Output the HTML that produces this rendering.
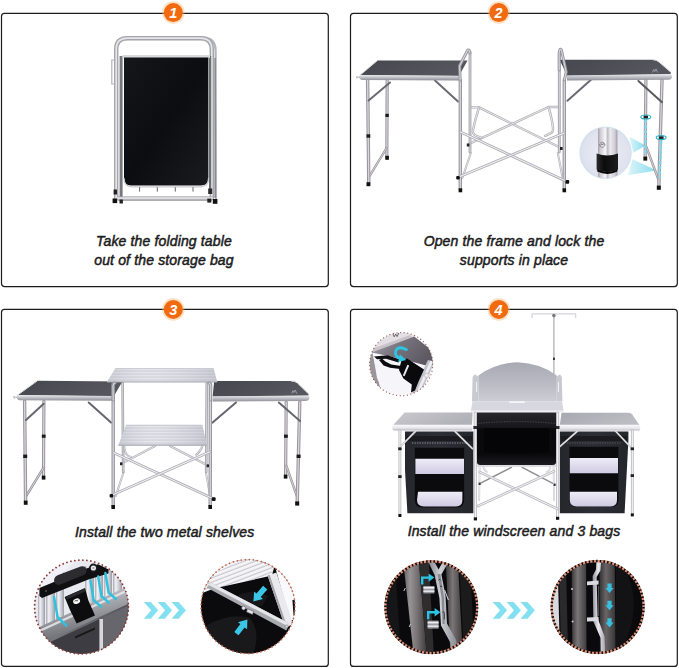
<!DOCTYPE html>
<html><head><meta charset="utf-8">
<style>
html,body{margin:0;padding:0;background:#fff;}
body{width:679px;height:668px;position:relative;overflow:hidden;font-family:"Liberation Sans",sans-serif;}
svg{position:absolute;left:0;top:0;}
.t{position:absolute;font-style:italic;font-size:14px;line-height:19px;color:#1c1c1c;text-align:center;white-space:nowrap;font-weight:400;-webkit-text-stroke:0.5px #1c1c1c;letter-spacing:0.15px;}
</style></head><body>
<svg width="679" height="668" viewBox="0 0 679 668">
<defs>
<linearGradient id="mv" x1="0" x2="1" y1="0" y2="0"><stop offset="0" stop-color="#9a9aa0"/><stop offset="0.45" stop-color="#f1f1f4"/><stop offset="1" stop-color="#a9a9b0"/></linearGradient>
<linearGradient id="chev" x1="0" x2="1"><stop offset="0" stop-color="#86dce8"/><stop offset="1" stop-color="#80e3f8"/></linearGradient>
</defs>
<!-- PANELS -->
<g fill="none" stroke="#1c1c1c" stroke-width="1.2">
<rect x="1.5" y="13.4" width="326.8" height="273.2" rx="3"/>
<rect x="350.5" y="13.4" width="326.8" height="273.2" rx="3"/>
<rect x="1.5" y="309.4" width="326.8" height="357" rx="3"/>
<rect x="350.5" y="309.4" width="326.8" height="357" rx="3"/>
</g>
<g id="img1">
<defs>
<linearGradient id="g1blk" x1="0" x2="1" y1="0" y2="1"><stop offset="0" stop-color="#15161a"/><stop offset="0.5" stop-color="#0c0d10"/><stop offset="1" stop-color="#1a1b1f"/></linearGradient>
<linearGradient id="tubeV" x1="0" x2="1"><stop offset="0" stop-color="#8d8d93"/><stop offset="0.4" stop-color="#ececf0"/><stop offset="1" stop-color="#9b9ba2"/></linearGradient>
<linearGradient id="tubeH" x1="0" x2="0" y1="0" y2="1"><stop offset="0" stop-color="#9a9aa0"/><stop offset="0.45" stop-color="#f2f2f5"/><stop offset="1" stop-color="#a4a4ab"/></linearGradient>
</defs>
<!-- back handle frame (right, thin) -->
<path d="M196,37.6 L204,37.6 Q215.4,38.4 215.6,50 L216,200" fill="none" stroke="#b4b4bc" stroke-width="2.2"/>
<!-- outer frame -->
<path d="M116.2,200 L116.2,49.4 Q116.2,38.2 127.4,38.2 L200.6,38.2 Q211.8,38.2 211.8,49.4 L211.8,200" fill="none" stroke="#a4a4ac" stroke-width="4.4"/>
<path d="M116.2,200 L116.2,49.4 Q116.2,38.2 127.4,38.2 L200.6,38.2 Q211.8,38.2 211.8,49.4 L211.8,200" fill="none" stroke="#e6e6ea" stroke-width="1.7"/>
<!-- inner vertical rails -->
<rect x="119.6" y="56" width="3" height="142" fill="#77777d"/>
<rect x="209" y="56" width="2.2" height="138" fill="#6d6d74"/>
<rect x="214.4" y="58" width="1.6" height="140" fill="#8a8a90"/>
<!-- left small latch -->
<path d="M115.5,60 L111.8,60 L111.8,84 L115.5,84" fill="none" stroke="#b4b4ba" stroke-width="1.2"/>
<!-- top rim of panel -->
<rect x="122.5" y="55" width="87.5" height="3" fill="#d9d9de"/>
<!-- black panel -->
<path d="M124,57.6 L208.4,57.6 L208.4,178 Q208.4,185.4 201,185.4 L131,185.4 Q124,185.4 124,178 Z" fill="url(#g1blk)"/>
<path d="M124,178 Q124,186.8 132,186.8 L200,186.8 Q208.6,186.8 208.6,178" fill="none" stroke="#c9c9cf" stroke-width="1.3"/>
<!-- small ticks -->
<g stroke="#55555b" stroke-width="0.9"><line x1="139.6" y1="187.2" x2="139.6" y2="191.6"/><line x1="157.3" y1="187.2" x2="157.3" y2="191.6"/><line x1="175.3" y1="187.2" x2="175.3" y2="191.6"/><line x1="193" y1="187.2" x2="193" y2="191.6"/></g>
<!-- bottom bar -->
<rect x="117" y="196.4" width="96" height="3.6" fill="url(#tubeH)"/>
<line x1="118" y1="200.4" x2="212" y2="200.4" stroke="#8b8b92" stroke-width="0.8"/>
<!-- feet -->
<rect x="113.6" y="189.5" width="3.4" height="5" fill="#222"/>
<rect x="112.6" y="198.5" width="4.6" height="4.6" fill="#111"/>
<rect x="119.5" y="199.5" width="3.4" height="4" fill="#222"/>
<rect x="208.2" y="188.5" width="4" height="5.5" fill="#2a2a2a"/>
<rect x="207.3" y="198.6" width="4" height="4" fill="#222"/>
<rect x="212.8" y="199" width="4.6" height="4.8" fill="#111"/>
</g>
<g id="img2"><defs>
<linearGradient id="top2" x1="0" x2="1" y1="0" y2="0.3"><stop offset="0" stop-color="#46464e"/><stop offset="1" stop-color="#56565e"/></linearGradient>
<linearGradient id="rim" x1="0" x2="0" y1="0" y2="1"><stop offset="0" stop-color="#ededf0"/><stop offset="0.5" stop-color="#bcbcc4"/><stop offset="1" stop-color="#8e8e96"/></linearGradient>
<linearGradient id="beam" x1="0" x2="1"><stop offset="0" stop-color="#d8f3f9" stop-opacity="0.9"/><stop offset="1" stop-color="#7ad9ee" stop-opacity="0.9"/></linearGradient>
<radialGradient id="ins2" cx="0.5" cy="0.5" r="0.5"><stop offset="0" stop-color="#eceef7"/><stop offset="0.85" stop-color="#dfe2ee"/><stop offset="1" stop-color="#cfd6e4"/></radialGradient>
<linearGradient id="pole2" x1="0" x2="1"><stop offset="0" stop-color="#a5a0a8"/><stop offset="0.12" stop-color="#cfcad2"/><stop offset="0.38" stop-color="#f7f7f9"/><stop offset="0.5" stop-color="#bdbdc4"/><stop offset="0.62" stop-color="#ecebf0"/><stop offset="0.88" stop-color="#cfcbd3"/><stop offset="1" stop-color="#9c98a1"/></linearGradient>
<linearGradient id="cap2" x1="0" x2="1"><stop offset="0" stop-color="#2a2a2c"/><stop offset="0.35" stop-color="#0c0c0d"/><stop offset="1" stop-color="#1d1d1f"/></linearGradient>
</defs><path d="M470,107.4 L479,107.4 L561,148" fill="none" stroke="#aeaeb6" stroke-width="2.4" stroke-linecap="round" stroke-linejoin="round" /><path d="M470,107.4 L479,107.4 L561,148" fill="none" stroke="#f1f1f5" stroke-width="0.864" stroke-linecap="round" stroke-linejoin="round" /><path d="M559.5,107 L548.6,107 L469,144" fill="none" stroke="#aeaeb6" stroke-width="2.4" stroke-linecap="round" stroke-linejoin="round" /><path d="M559.5,107 L548.6,107 L469,144" fill="none" stroke="#f1f1f5" stroke-width="0.864" stroke-linecap="round" stroke-linejoin="round" /><path d="M479,107.6 Q475,120 473,130 Q472.3,134.6 476.2,135.8 L481.5,137.8" fill="none" stroke="#aeaeb6" stroke-width="2.4" stroke-linecap="round" stroke-linejoin="round" /><path d="M479,107.6 Q475,120 473,130 Q472.3,134.6 476.2,135.8 L481.5,137.8" fill="none" stroke="#f1f1f5" stroke-width="0.864" stroke-linecap="round" stroke-linejoin="round" /><path d="M548.6,107.2 Q552,119 553,128 Q553.6,132.6 550,133.6 L545,135.8" fill="none" stroke="#aeaeb6" stroke-width="2.4" stroke-linecap="round" stroke-linejoin="round" /><path d="M548.6,107.2 Q552,119 553,128 Q553.6,132.6 550,133.6 L545,135.8" fill="none" stroke="#f1f1f5" stroke-width="0.864" stroke-linecap="round" stroke-linejoin="round" /><path d="M470.8,153 L462.4,178" fill="none" stroke="#aeaeb6" stroke-width="2.0" stroke-linecap="round" stroke-linejoin="round" /><path d="M470.8,153 L462.4,178" fill="none" stroke="#f1f1f5" stroke-width="0.72" stroke-linecap="round" stroke-linejoin="round" /><path d="M557.8,153 L563,180" fill="none" stroke="#aeaeb6" stroke-width="2.0" stroke-linecap="round" stroke-linejoin="round" /><path d="M557.8,153 L563,180" fill="none" stroke="#f1f1f5" stroke-width="0.72" stroke-linecap="round" stroke-linejoin="round" /><path d="M470,52 L470,152" fill="none" stroke="#a0a0a8" stroke-width="2.8" stroke-linecap="round" stroke-linejoin="round" /><path d="M470,52 L470,152" fill="none" stroke="#dad8de" stroke-width="1.008" stroke-linecap="round" stroke-linejoin="round" /><path d="M559.3,54 L559.3,152" fill="none" stroke="#a0a0a8" stroke-width="2.8" stroke-linecap="round" stroke-linejoin="round" /><path d="M559.3,54 L559.3,152" fill="none" stroke="#dad8de" stroke-width="1.008" stroke-linecap="round" stroke-linejoin="round" /><line x1="435" y1="80.5" x2="458" y2="101.5" stroke="#6a6a72" stroke-width="2.0" stroke-linecap="round"/><path d="M387.2,80 L386.8,157" fill="none" stroke="#9b969e" stroke-width="3.2" stroke-linecap="round" stroke-linejoin="round" /><path d="M387.2,80 L386.8,157" fill="none" stroke="#dad8de" stroke-width="1.152" stroke-linecap="round" stroke-linejoin="round" /><path d="M386.6,148 L369.6,176" fill="none" stroke="#9b969e" stroke-width="2.4" stroke-linecap="round" stroke-linejoin="round" /><path d="M386.6,148 L369.6,176" fill="none" stroke="#dad8de" stroke-width="0.864" stroke-linecap="round" stroke-linejoin="round" /><path d="M367.6,80 L368.8,184" fill="none" stroke="#9b969e" stroke-width="3.4" stroke-linecap="round" stroke-linejoin="round" /><path d="M367.6,80 L368.8,184" fill="none" stroke="#dad8de" stroke-width="1.224" stroke-linecap="round" stroke-linejoin="round" /><line x1="390" y1="82.5" x2="368.6" y2="100.5" stroke="#6a6a72" stroke-width="2.0" stroke-linecap="round"/><rect x="385.4" y="113.8" width="3.4" height="3.2" fill="#1a1a1a" rx="0"/><rect x="366.5" y="134.3" width="3.8" height="3.4" fill="#1a1a1a" rx="0"/><rect x="385.3" y="155.8" width="3.6" height="4" fill="#111" rx="0"/><rect x="366.5" y="182.2" width="3.8" height="4" fill="#111" rx="0"/><path d="M377.5,60.4 L467.5,60.4 L459,76 L360,75.2 Z" fill="url(#top2)"/><path d="M359.6,75 L459,75.8 L459.3,80.4 L362,80 Q358.6,79.6 359.6,75 Z" fill="url(#rim)"/><path d="M360,77.4 L356.4,76.6 L357.2,78.6" fill="none" stroke="#aaaab0" stroke-width="0.9"/><path d="M377.5,60.4 L360,75.2" stroke="#d6d6db" stroke-width="1" fill="none"/><path d="M460.3,80 L460.3,189.5" fill="none" stroke="#97979f" stroke-width="3.4" stroke-linecap="round" stroke-linejoin="round" /><path d="M460.3,80 L460.3,189.5" fill="none" stroke="#dad8de" stroke-width="1.224" stroke-linecap="round" stroke-linejoin="round" /><path d="M460.2,80 L459.6,66 L467.4,50.6 Q469.4,48.4 470,53" fill="none" stroke="#97979f" stroke-width="3.0" stroke-linecap="round" stroke-linejoin="round" /><path d="M460.2,80 L459.6,66 L467.4,50.6 Q469.4,48.4 470,53" fill="none" stroke="#dad8de" stroke-width="1.08" stroke-linecap="round" stroke-linejoin="round" /><rect x="458.6" y="188.3" width="3.6" height="4" fill="#111" rx="0"/><line x1="591" y1="79.8" x2="567.4" y2="100.8" stroke="#6a6a72" stroke-width="2.0" stroke-linecap="round"/><path d="M629.4,136.7 L645.4,145.6 L633.4,152.8 Z" fill="url(#beam)"/><path d="M632.6,159.2 L656.7,170.4 L627.8,175.3 Z" fill="url(#beam)"/><path d="M645.9,80 L645.2,157.5" fill="none" stroke="#9b969e" stroke-width="3.2" stroke-linecap="round" stroke-linejoin="round" /><path d="M645.9,80 L645.2,157.5" fill="none" stroke="#dad8de" stroke-width="1.152" stroke-linecap="round" stroke-linejoin="round" /><path d="M646.4,147 L658.6,180" fill="none" stroke="#9b969e" stroke-width="2.4" stroke-linecap="round" stroke-linejoin="round" /><path d="M646.4,147 L658.6,180" fill="none" stroke="#dad8de" stroke-width="0.864" stroke-linecap="round" stroke-linejoin="round" /><path d="M662,80 L658.8,187" fill="none" stroke="#9b969e" stroke-width="3.4" stroke-linecap="round" stroke-linejoin="round" /><path d="M662,80 L658.8,187" fill="none" stroke="#dad8de" stroke-width="1.224" stroke-linecap="round" stroke-linejoin="round" /><line x1="638.4" y1="81" x2="662" y2="102.2" stroke="#5a5a62" stroke-width="2.0" stroke-linecap="round"/><rect x="643.4" y="156.6" width="3.8" height="4" fill="#111" rx="0"/><rect x="656.8" y="185.6" width="4" height="4.2" fill="#111" rx="0"/><path d="M559.6,59.8 L653,59.8 Q656.5,59.8 659,62 L670.6,72 Q672,74 669,74.4 L567.2,75.8 Z" fill="url(#top2)"/><path d="M566.8,75.6 L669.5,74 Q672.6,74 672,77 Q671.6,79.6 668.6,79.7 L567,80.6 Z" fill="url(#rim)"/><path d="M653,59.8 Q656.5,59.8 659,62 L670.6,72" stroke="#d9d9de" stroke-width="1" fill="none"/><path d="M652.4,72.5 l1.3,-3 l1.1,2 l1.2,-2.6 l1.6,3.6" stroke="#b5b5bb" stroke-width="0.7" fill="none"/><path d="M564.3,80 L564.3,189.5" fill="none" stroke="#97979f" stroke-width="3.4" stroke-linecap="round" stroke-linejoin="round" /><path d="M564.3,80 L564.3,189.5" fill="none" stroke="#dad8de" stroke-width="1.224" stroke-linecap="round" stroke-linejoin="round" /><path d="M564.4,80 L566.2,72 L561.4,50 Q559.6,47.6 559.2,53 L559.2,70" fill="none" stroke="#97979f" stroke-width="3.0" stroke-linecap="round" stroke-linejoin="round" /><path d="M564.4,80 L566.2,72 L561.4,50 Q559.6,47.6 559.2,53 L559.2,70" fill="none" stroke="#dad8de" stroke-width="1.08" stroke-linecap="round" stroke-linejoin="round" /><rect x="562.5" y="188.3" width="3.6" height="4" fill="#111" rx="0"/><path d="M460.6,132 L566.6,181.4" fill="none" stroke="#aeaeb6" stroke-width="2.8" stroke-linecap="round" stroke-linejoin="round" /><path d="M460.6,132 L566.6,181.4" fill="none" stroke="#f1f1f5" stroke-width="1.008" stroke-linecap="round" stroke-linejoin="round" /><path d="M564.2,133 L458.8,177" fill="none" stroke="#aeaeb6" stroke-width="2.8" stroke-linecap="round" stroke-linejoin="round" /><path d="M564.2,133 L458.8,177" fill="none" stroke="#f1f1f5" stroke-width="1.008" stroke-linecap="round" stroke-linejoin="round" /><rect x="456.2" y="176" width="3.6" height="3.6" fill="#111" rx="1"/><rect x="565.4" y="180" width="3.8" height="3.8" fill="#111" rx="1"/><rect x="466.8" y="143.5" width="2.6" height="3" fill="#222" rx="0"/><rect x="560" y="147" width="2.6" height="3" fill="#222" rx="0"/><g stroke="#7adcef" stroke-width="2.6" stroke-dasharray="3.4 1.6" opacity="0.85"><line x1="645.7" y1="120" x2="645.3" y2="154"/><line x1="661.2" y1="141" x2="659.4" y2="178"/></g><rect x="643.6" y="115.6" width="4.4" height="3" fill="#222" rx="0"/><rect x="659" y="136.2" width="4.6" height="3" fill="#222" rx="0"/><g stroke="#2ab0c6" stroke-width="1.1" fill="none"><ellipse cx="645.8" cy="117" rx="5" ry="2"/><ellipse cx="661.2" cy="137.6" rx="5" ry="2"/></g><clipPath id="c2"><circle cx="605.6" cy="152.8" r="25.4"/></clipPath><circle cx="605.6" cy="152.8" r="26.2" fill="#cfe6ee"/><g clip-path="url(#c2)"><rect x="578" y="125" width="56" height="56" fill="url(#ins2)"/><rect x="598" y="125" width="19.4" height="56" fill="url(#pole2)"/><path d="M596.6,153.6 Q607.4,157.6 618,153.6 L618,169.4 Q607.4,174.4 596.6,169.4 Z" fill="url(#cap2)"/><path d="M597.2,169.4 Q607.4,174.2 617.4,169.4 L617.4,171.6 Q607.4,176.4 597.2,171.6 Z" fill="#050505"/><circle cx="602.2" cy="144.8" r="2.6" fill="none" stroke="#6d6d75" stroke-width="0.9" stroke-dasharray="1.6 0.8"/><path d="M600.6,145.6 l1.2,-2 l1,1.4 l1,-1.8" stroke="#55555c" stroke-width="0.6" fill="none"/></g></g>
<g id="img3"><defs>
<pattern id="stripes" width="3" height="3" patternUnits="userSpaceOnUse"><rect width="3" height="3" fill="#cacad5"/><rect y="0" width="3" height="1.2" fill="#dedee7"/></pattern>
<linearGradient id="shelfG" x1="0" x2="1" y1="0" y2="0"><stop offset="0" stop-color="#c2c2cc" stop-opacity="0.55"/><stop offset="0.4" stop-color="#ffffff" stop-opacity="0.25"/><stop offset="1" stop-color="#b9b9c4" stop-opacity="0.5"/></linearGradient>
</defs><path d="M124,446 Q124.6,451.6 126.4,454 Q128,456.4 131,457" fill="none" stroke="#aeaeb6" stroke-width="2.2" stroke-linecap="round" stroke-linejoin="round" /><path d="M124,446 Q124.6,451.6 126.4,454 Q128,456.4 131,457" fill="none" stroke="#f1f1f5" stroke-width="0.792" stroke-linecap="round" stroke-linejoin="round" /><path d="M202.4,446 Q200,452 196.2,454.6" fill="none" stroke="#aeaeb6" stroke-width="2.2" stroke-linecap="round" stroke-linejoin="round" /><path d="M202.4,446 Q200,452 196.2,454.6" fill="none" stroke="#f1f1f5" stroke-width="0.792" stroke-linecap="round" stroke-linejoin="round" /><path d="M155,446 L121.6,463.6" fill="none" stroke="#aeaeb6" stroke-width="2.2" stroke-linecap="round" stroke-linejoin="round" /><path d="M155,446 L121.6,463.6" fill="none" stroke="#f1f1f5" stroke-width="0.792" stroke-linecap="round" stroke-linejoin="round" /><path d="M170,446 L207.8,465.6" fill="none" stroke="#aeaeb6" stroke-width="2.2" stroke-linecap="round" stroke-linejoin="round" /><path d="M170,446 L207.8,465.6" fill="none" stroke="#f1f1f5" stroke-width="0.792" stroke-linecap="round" stroke-linejoin="round" /><path d="M123.6,472 L115.8,496" fill="none" stroke="#aeaeb6" stroke-width="2.0" stroke-linecap="round" stroke-linejoin="round" /><path d="M123.6,472 L115.8,496" fill="none" stroke="#f1f1f5" stroke-width="0.72" stroke-linecap="round" stroke-linejoin="round" /><path d="M205.9,472 L210.4,497.6" fill="none" stroke="#aeaeb6" stroke-width="2.0" stroke-linecap="round" stroke-linejoin="round" /><path d="M205.9,472 L210.4,497.6" fill="none" stroke="#f1f1f5" stroke-width="0.72" stroke-linecap="round" stroke-linejoin="round" /><path d="M122.6,383 L123.2,472" fill="none" stroke="#a0a0a8" stroke-width="2.6" stroke-linecap="round" stroke-linejoin="round" /><path d="M122.6,383 L123.2,472" fill="none" stroke="#dad8de" stroke-width="0.9359999999999999" stroke-linecap="round" stroke-linejoin="round" /><path d="M206.8,383 L206.2,472" fill="none" stroke="#a0a0a8" stroke-width="2.6" stroke-linecap="round" stroke-linejoin="round" /><path d="M206.8,383 L206.2,472" fill="none" stroke="#dad8de" stroke-width="0.9359999999999999" stroke-linecap="round" stroke-linejoin="round" /><line x1="88.7" y1="402.5" x2="111" y2="422.6" stroke="#66666e" stroke-width="2.0" stroke-linecap="round"/><path d="M43.9,401 L43.5,477" fill="none" stroke="#9b969e" stroke-width="3.2" stroke-linecap="round" stroke-linejoin="round" /><path d="M43.9,401 L43.5,477" fill="none" stroke="#dad8de" stroke-width="1.152" stroke-linecap="round" stroke-linejoin="round" /><path d="M43.4,468 L26.2,496" fill="none" stroke="#9b969e" stroke-width="2.4" stroke-linecap="round" stroke-linejoin="round" /><path d="M43.4,468 L26.2,496" fill="none" stroke="#dad8de" stroke-width="0.864" stroke-linecap="round" stroke-linejoin="round" /><path d="M24.6,401 L25.6,502" fill="none" stroke="#9b969e" stroke-width="3.4" stroke-linecap="round" stroke-linejoin="round" /><path d="M24.6,401 L25.6,502" fill="none" stroke="#dad8de" stroke-width="1.224" stroke-linecap="round" stroke-linejoin="round" /><line x1="43.7" y1="403.7" x2="26" y2="420" stroke="#66666e" stroke-width="2.0" stroke-linecap="round"/><rect x="41.8" y="434.6" width="3.8" height="3.2" fill="#1a1a1a" rx="0"/><rect x="23.2" y="454.6" width="4" height="3.4" fill="#1a1a1a" rx="0"/><rect x="41.8" y="475.6" width="3.6" height="4" fill="#111" rx="0"/><rect x="23.8" y="500.6" width="3.8" height="4.2" fill="#111" rx="0"/><path d="M37.4,380.8 L122.4,381.6 L113.8,396.2 L17.4,395.2 Z" fill="url(#top2)"/><path d="M17,395 L113.8,396 L114,400.8 L19.4,400.2 Q16,399.8 17,395 Z" fill="url(#rim)"/><path d="M17.4,397.6 L13.6,396.6 L14.6,398.8" fill="none" stroke="#aaaab0" stroke-width="0.9"/><path d="M37.4,380.8 L17.4,395.2" stroke="#d6d6db" stroke-width="1" fill="none"/><line x1="236" y1="402.4" x2="212.6" y2="422.6" stroke="#66666e" stroke-width="2.0" stroke-linecap="round"/><path d="M286.2,402 L285.6,476" fill="none" stroke="#9b969e" stroke-width="3.2" stroke-linecap="round" stroke-linejoin="round" /><path d="M286.2,402 L285.6,476" fill="none" stroke="#dad8de" stroke-width="1.152" stroke-linecap="round" stroke-linejoin="round" /><path d="M286.4,466 L297.2,497" fill="none" stroke="#9b969e" stroke-width="2.4" stroke-linecap="round" stroke-linejoin="round" /><path d="M286.4,466 L297.2,497" fill="none" stroke="#dad8de" stroke-width="0.864" stroke-linecap="round" stroke-linejoin="round" /><path d="M299.8,402 L297.2,503" fill="none" stroke="#9b969e" stroke-width="3.4" stroke-linecap="round" stroke-linejoin="round" /><path d="M299.8,402 L297.2,503" fill="none" stroke="#dad8de" stroke-width="1.224" stroke-linecap="round" stroke-linejoin="round" /><line x1="278.8" y1="402.6" x2="300" y2="421" stroke="#66666e" stroke-width="2.0" stroke-linecap="round"/><rect x="284" y="434.6" width="3.8" height="3.2" fill="#1a1a1a" rx="0"/><rect x="296.6" y="454.6" width="4" height="3.4" fill="#1a1a1a" rx="0"/><rect x="283.8" y="474.6" width="3.6" height="4" fill="#111" rx="0"/><rect x="295.2" y="501.4" width="4" height="4.2" fill="#111" rx="0"/><path d="M214.2,381 L291,381 Q295,381 297.4,383 L308.2,393.6 Q309.6,395.6 306.6,395.8 L212.6,396.6 Z" fill="url(#top2)"/><path d="M212.4,396.4 L307,395.4 Q310,395.4 309.4,398.4 Q309,400.8 306,400.9 L212.6,401.6 Z" fill="url(#rim)"/><path d="M291,381 Q295,381 297.4,383 L308.2,393.6" stroke="#d9d9de" stroke-width="1" fill="none"/><path d="M291.6,393.6 l1.3,-3 l1.1,2 l1.2,-2.6 l1.6,3.6" stroke="#b5b5bb" stroke-width="0.7" fill="none"/><path d="M126,425.2 L202.4,425.2 L206.8,445.2 L118.4,445.2 Z" fill="url(#stripes)"/><path d="M126,425.2 L202.4,425.2 L206.8,445.2 L118.4,445.2 Z" fill="url(#shelfG)"/><path d="M118.4,445.2 L206.8,445.2" stroke="#a9a9b2" stroke-width="1.2"/><path d="M126,425.2 L202.4,425.2" stroke="#bfbfc8" stroke-width="0.8"/><path d="M113.2,384 L113.2,506" fill="none" stroke="#97979f" stroke-width="3.4" stroke-linecap="round" stroke-linejoin="round" /><path d="M113.2,384 L113.2,506" fill="none" stroke="#dad8de" stroke-width="1.224" stroke-linecap="round" stroke-linejoin="round" /><path d="M210.4,384 L210.2,506" fill="none" stroke="#97979f" stroke-width="3.4" stroke-linecap="round" stroke-linejoin="round" /><path d="M210.4,384 L210.2,506" fill="none" stroke="#dad8de" stroke-width="1.224" stroke-linecap="round" stroke-linejoin="round" /><rect x="111.4" y="505" width="3.6" height="4" fill="#111" rx="0"/><rect x="208.4" y="505" width="3.6" height="4" fill="#111" rx="0"/><path d="M115.2,368.6 L213.6,368.6 L217.2,382 L107,382 Z" fill="url(#stripes)"/><path d="M115.2,368.6 L213.6,368.6 L217.2,382 L107,382 Z" fill="url(#shelfG)"/><path d="M107,382 L217.2,382" stroke="#a5a5ae" stroke-width="1.2"/><path d="M115.2,368.6 L213.6,368.6" stroke="#c3c3cc" stroke-width="0.8"/><path d="M113.2,400 L113,386 Q113.4,383.4 115,383" fill="none" stroke="#97979f" stroke-width="3.0" stroke-linecap="round" stroke-linejoin="round" /><path d="M113.2,400 L113,386 Q113.4,383.4 115,383" fill="none" stroke="#dad8de" stroke-width="1.08" stroke-linecap="round" stroke-linejoin="round" /><path d="M210.4,400 L210.8,386 Q210.4,383.4 209,383" fill="none" stroke="#97979f" stroke-width="3.0" stroke-linecap="round" stroke-linejoin="round" /><path d="M210.4,400 L210.8,386 Q210.4,383.4 209,383" fill="none" stroke="#dad8de" stroke-width="1.08" stroke-linecap="round" stroke-linejoin="round" /><path d="M113.6,452.7 L213,498.6" fill="none" stroke="#aeaeb6" stroke-width="2.8" stroke-linecap="round" stroke-linejoin="round" /><path d="M113.6,452.7 L213,498.6" fill="none" stroke="#f1f1f5" stroke-width="1.008" stroke-linecap="round" stroke-linejoin="round" /><path d="M210,451.8 L112.2,495" fill="none" stroke="#aeaeb6" stroke-width="2.8" stroke-linecap="round" stroke-linejoin="round" /><path d="M210,451.8 L112.2,495" fill="none" stroke="#f1f1f5" stroke-width="1.008" stroke-linecap="round" stroke-linejoin="round" /><rect x="109.6" y="494" width="3.6" height="3.6" fill="#111" rx="1"/><rect x="211.8" y="497.2" width="3.8" height="3.8" fill="#111" rx="1"/><rect x="120" y="462.4" width="2.4" height="2.8" fill="#222" rx="0"/><rect x="206.6" y="464.4" width="2.4" height="2.8" fill="#222" rx="0"/></g>
<g id="img4"><defs>
<linearGradient id="ws" x1="0" x2="0" y1="0" y2="1"><stop offset="0" stop-color="#a9a9b3"/><stop offset="0.6" stop-color="#bdbdc6"/><stop offset="1" stop-color="#cdcdd5"/></linearGradient>
<linearGradient id="top4" x1="0" x2="1" y1="0" y2="0.4"><stop offset="0" stop-color="#c9c9ce"/><stop offset="1" stop-color="#b1b1b8"/></linearGradient>
<linearGradient id="top4r" x1="0" x2="1" y1="0" y2="0.4"><stop offset="0" stop-color="#a8a8b0"/><stop offset="1" stop-color="#bcbcc3"/></linearGradient>
<linearGradient id="rim4" x1="0" x2="0" y1="0" y2="1"><stop offset="0" stop-color="#fbfbfc"/><stop offset="0.6" stop-color="#e6e6ea"/><stop offset="1" stop-color="#b9b9c0"/></linearGradient>
<linearGradient id="bagO" x1="0" x2="1"><stop offset="0" stop-color="#26262d"/><stop offset="0.5" stop-color="#2e2e36"/><stop offset="1" stop-color="#25252c"/></linearGradient>
<linearGradient id="shelfL" x1="0" x2="0" y1="0" y2="1"><stop offset="0" stop-color="#efecf8"/><stop offset="1" stop-color="#cfcae2"/></linearGradient>
<linearGradient id="midbag" x1="0" x2="0" y1="0" y2="1"><stop offset="0" stop-color="#26262c"/><stop offset="0.28" stop-color="#17171b"/><stop offset="0.32" stop-color="#09090b"/><stop offset="0.8" stop-color="#0a0a0d"/><stop offset="1" stop-color="#1c1c21"/></linearGradient>
</defs><path d="M532.2,318 L532.2,313.8 L575.6,313.8 L575.6,318" fill="none" stroke="#d6d6db" stroke-width="1.3"/><line x1="553.9" y1="316" x2="553.9" y2="374" stroke="#bbbbc2" stroke-width="1.5"/><circle cx="553.9" cy="315.6" r="1.8" fill="#77777d"/><rect x="553" y="357.6" width="1.9" height="2.4" fill="#333" rx="0"/><path d="M472,401.6 L472.6,377 L474.6,374.2 L478.4,376.6 L478.4,401.6 Z" fill="#c9c9d2"/><path d="M562.4,401.6 L561.8,377 L560,374.2 L556.8,376.6 L556.8,401.6 Z" fill="#c9c9d2"/><path d="M478.4,401.6 L478.4,375.4 Q496,363 517.6,362.2 Q540,363 556.8,375.4 L556.8,401.6 Z" fill="url(#ws)"/><g stroke="#f4f4f7" stroke-width="1"><line x1="476.6" y1="382" x2="476.6" y2="392"/><line x1="558.4" y1="382" x2="558.4" y2="392"/></g><path d="M472.6,401.4 L562,401.4 L563.6,411 L470.8,411 Z" fill="#d7d7df"/><path d="M470.8,410.6 L563.6,410.6 L563.6,412.6 L470.8,412.6 Z" fill="#efeff3"/><rect x="509" y="401.2" width="16" height="1.8" rx="0.9" fill="#f6f6f9"/><line x1="511.4" y1="467.4" x2="479.7" y2="483.6" stroke="#8d8d94" stroke-width="1.5" stroke-linecap="round"/><line x1="522.2" y1="467.4" x2="554.7" y2="484.4" stroke="#8d8d94" stroke-width="1.5" stroke-linecap="round"/><path d="M476.8,412.6 L556.4,412.6 L556,463 Q555.6,465 553,465 L480,465 Q477.4,465 477,463 Z" fill="url(#midbag)"/><path d="M478,423.4 Q516,419.6 555,423.4" stroke="#3a3a42" stroke-width="1.2" fill="none" stroke-dasharray="1.6 1"/><path d="M484,428 L549,428 L549,452 Q516,455 484,452 Z" fill="#050507"/><path d="M405,431.6 L473.4,431.6 L473.4,513.2 L407.4,513.2 L405,470 Z" fill="url(#bagO)"/><path d="M406,436 L472,436 L472,441 L406,441 Z" fill="#1a1a1f"/><path d="M412,443 L466,443" stroke="#6b6b75" stroke-width="1.4" stroke-dasharray="1.4 1.1"/><path d="M414.8,447.8 L464.2,447.8 L464.2,500 Q464.2,507.4 457,507.4 L422,507.4 Q414.8,507.4 414.8,500 Z" fill="#0b0b0e"/><path d="M415.4,458.8 L464,458.8 L464,474 L415.4,474 Z" fill="url(#shelfL)"/><path d="M418,491.8 L462.4,491.8 L462.4,500 Q462.4,506.4 456,506.4 L424,506.4 Q417,506.4 417,500 Z" fill="url(#shelfL)"/><path d="M559.8,431.6 L628.4,431.6 L628.4,440 L624.6,513.2 L559.8,513.2 Z" fill="url(#bagO)"/><path d="M561,436 L627,436 L627,441 L561,441 Z" fill="#1a1a1f"/><path d="M567,443 L622,443" stroke="#55555f" stroke-width="1.2" stroke-dasharray="1.4 1.1"/><path d="M569.4,446.8 L618.4,446.8 L618.4,500 Q618.4,507 611,507 L576.4,507 Q569.4,507 569.4,500 Z" fill="#0b0b0e"/><path d="M569.8,458 L618,458 L618,473.2 L569.8,473.2 Z" fill="url(#shelfL)"/><path d="M569.8,491.8 L617,491.8 L617,500 Q617,506.4 610.6,506.4 L576.6,506.4 Q569.8,506.4 569.8,500 Z" fill="url(#shelfL)"/><path d="M404.6,412.4 L472.6,412.4 L472,425 L393.2,425 Z" fill="url(#top4)"/><path d="M392.4,424.8 L472.4,424.8 L472.4,430.4 L394,430.4 Q391.4,430 392.4,424.8 Z" fill="url(#rim4)"/><path d="M561.6,412.8 L628,412.8 Q630.6,412.8 632,414.2 L639.4,424.9 L559.8,424.9 Z" fill="url(#top4r)"/><path d="M559.8,424.8 L639.6,424.8 Q641,427.6 639.6,430.6 L559.8,430.8 Z" fill="url(#rim4)"/><path d="M415.8,431 L400.4,446.6" fill="none" stroke="#c9c9cf" stroke-width="1.8" stroke-linecap="round" stroke-linejoin="round" /><path d="M415.8,431 L400.4,446.6" fill="none" stroke="#fafafc" stroke-width="0.648" stroke-linecap="round" stroke-linejoin="round" /><path d="M454.6,431 L472.4,448.6" fill="none" stroke="#c9c9cf" stroke-width="1.8" stroke-linecap="round" stroke-linejoin="round" /><path d="M454.6,431 L472.4,448.6" fill="none" stroke="#fafafc" stroke-width="0.648" stroke-linecap="round" stroke-linejoin="round" /><path d="M577.6,431 L559.8,446.6" fill="none" stroke="#c9c9cf" stroke-width="1.8" stroke-linecap="round" stroke-linejoin="round" /><path d="M577.6,431 L559.8,446.6" fill="none" stroke="#fafafc" stroke-width="0.648" stroke-linecap="round" stroke-linejoin="round" /><path d="M615.4,431 L631.2,447.6" fill="none" stroke="#c9c9cf" stroke-width="1.8" stroke-linecap="round" stroke-linejoin="round" /><path d="M615.4,431 L631.2,447.6" fill="none" stroke="#fafafc" stroke-width="0.648" stroke-linecap="round" stroke-linejoin="round" /><path d="M399.9,430.6 L399.9,514.6" fill="none" stroke="#b9b9c0" stroke-width="2.8" stroke-linecap="round" stroke-linejoin="round" /><path d="M399.9,430.6 L399.9,514.6" fill="none" stroke="#fafafc" stroke-width="1.008" stroke-linecap="round" stroke-linejoin="round" /><path d="M632.3,430.8 L632.3,514" fill="none" stroke="#b9b9c0" stroke-width="2.8" stroke-linecap="round" stroke-linejoin="round" /><path d="M632.3,430.8 L632.3,514" fill="none" stroke="#fafafc" stroke-width="1.008" stroke-linecap="round" stroke-linejoin="round" /><rect x="398.2" y="447.4" width="3.4" height="2.8" fill="#222" rx="0"/><rect x="398.2" y="475.2" width="3.4" height="2.8" fill="#222" rx="0"/><rect x="630.6" y="447.4" width="3.4" height="2.8" fill="#222" rx="0"/><rect x="630.6" y="474.2" width="3.4" height="2.8" fill="#222" rx="0"/><rect x="398.4" y="514" width="3" height="3" fill="#111" rx="0"/><rect x="630.8" y="513.4" width="3" height="3" fill="#111" rx="0"/><path d="M475.2,413 L475.4,518" fill="none" stroke="#bdbdc4" stroke-width="3.0" stroke-linecap="round" stroke-linejoin="round" /><path d="M475.2,413 L475.4,518" fill="none" stroke="#fafafc" stroke-width="1.08" stroke-linecap="round" stroke-linejoin="round" /><path d="M557.7,413 L557.6,517.4" fill="none" stroke="#bdbdc4" stroke-width="3.0" stroke-linecap="round" stroke-linejoin="round" /><path d="M557.7,413 L557.6,517.4" fill="none" stroke="#fafafc" stroke-width="1.08" stroke-linecap="round" stroke-linejoin="round" /><rect x="473.4" y="426" width="3.6" height="3" fill="#2a2a2e" rx="0"/><rect x="555.9" y="426" width="3.6" height="3" fill="#2a2a2e" rx="0"/><rect x="473.8" y="517.4" width="3.2" height="3" fill="#111" rx="0"/><rect x="556" y="516.8" width="3.2" height="3" fill="#111" rx="0"/><path d="M479.6,466 L479.2,500" fill="none" stroke="#c9c9cf" stroke-width="1.8" stroke-linecap="round" stroke-linejoin="round" /><path d="M479.6,466 L479.2,500" fill="none" stroke="#fafafc" stroke-width="0.648" stroke-linecap="round" stroke-linejoin="round" /><path d="M553.6,466 L554,500" fill="none" stroke="#c9c9cf" stroke-width="1.8" stroke-linecap="round" stroke-linejoin="round" /><path d="M553.6,466 L554,500" fill="none" stroke="#fafafc" stroke-width="0.648" stroke-linecap="round" stroke-linejoin="round" /><path d="M478,466.2 L556,466.2" fill="none" stroke="#c9c9cf" stroke-width="1.8" stroke-linecap="round" stroke-linejoin="round" /><path d="M478,466.2 L556,466.2" fill="none" stroke="#fafafc" stroke-width="0.648" stroke-linecap="round" stroke-linejoin="round" /><path d="M479.7,472 L557.6,509" fill="none" stroke="#bcbcc4" stroke-width="2.7" stroke-linecap="round" stroke-linejoin="round" /><path d="M479.7,472 L557.6,509" fill="none" stroke="#fafafc" stroke-width="0.9" stroke-linecap="round" stroke-linejoin="round" /><path d="M554,471.2 L478,506" fill="none" stroke="#bcbcc4" stroke-width="2.7" stroke-linecap="round" stroke-linejoin="round" /><path d="M554,471.2 L478,506" fill="none" stroke="#fafafc" stroke-width="0.9" stroke-linecap="round" stroke-linejoin="round" /><path d="M483.4,466.6 Q484,470.6 487,472" fill="none" stroke="#c9c9cf" stroke-width="1.6" stroke-linecap="round" stroke-linejoin="round" /><path d="M483.4,466.6 Q484,470.6 487,472" fill="none" stroke="#fafafc" stroke-width="0.6" stroke-linecap="round" stroke-linejoin="round" /><path d="M550.4,466.6 Q549.6,470.6 546.6,472" fill="none" stroke="#c9c9cf" stroke-width="1.6" stroke-linecap="round" stroke-linejoin="round" /><path d="M550.4,466.6 Q549.6,470.6 546.6,472" fill="none" stroke="#fafafc" stroke-width="0.6" stroke-linecap="round" stroke-linejoin="round" /><rect x="478.6" y="482.6" width="2" height="2.4" fill="#333" rx="0"/><rect x="553.6" y="483.6" width="2" height="2.4" fill="#333" rx="0"/></g>
<g id="insets"><defs>
<linearGradient id="i4aG" x1="0" x2="1" y1="0" y2="0.4"><stop offset="0" stop-color="#a6a2ab"/><stop offset="0.5" stop-color="#77737c"/><stop offset="1" stop-color="#5d5a63"/></linearGradient>
<linearGradient id="i3aT" x1="0" x2="0.3" y1="0" y2="1"><stop offset="0" stop-color="#d8d8df"/><stop offset="0.35" stop-color="#b4b4bb"/><stop offset="0.75" stop-color="#7d7d84"/><stop offset="1" stop-color="#5e5e64"/></linearGradient>
<linearGradient id="i3aB" x1="0" x2="0" y1="0" y2="1"><stop offset="0" stop-color="#4e4e54"/><stop offset="1" stop-color="#8c8c92"/></linearGradient>
<linearGradient id="ribs" x1="0" x2="1"><stop offset="0" stop-color="#a9a9b2"/><stop offset="0.3" stop-color="#f0f0f5"/><stop offset="0.6" stop-color="#d2d2da"/><stop offset="1" stop-color="#9c9ca5"/></linearGradient>
<linearGradient id="gt1" x1="0" x2="1"><stop offset="0" stop-color="#5c5759"/><stop offset="0.3" stop-color="#989395"/><stop offset="0.6" stop-color="#767173"/><stop offset="1" stop-color="#3c393a"/></linearGradient>
<linearGradient id="gt2" x1="0" x2="1"><stop offset="0" stop-color="#3a3738"/><stop offset="0.4" stop-color="#7a7576"/><stop offset="1" stop-color="#3e3b3c"/></linearGradient>
<linearGradient id="brk" x1="0" x2="1"><stop offset="0" stop-color="#8e8e96"/><stop offset="0.45" stop-color="#e9e9ee"/><stop offset="1" stop-color="#a2a2aa"/></linearGradient><linearGradient id="brk2" x1="0" x2="1"><stop offset="0" stop-color="#77777f"/><stop offset="0.45" stop-color="#cfcfd6"/><stop offset="1" stop-color="#8a8a92"/></linearGradient>
<pattern id="sstr" width="4" height="4" patternUnits="userSpaceOnUse" patternTransform="rotate(-21)"><rect width="4" height="4" fill="#f6f6f9"/><rect y="2.8" width="4" height="1.2" fill="#c6c6ce"/></pattern>
</defs><clipPath id="c4a"><circle cx="401.2" cy="364.1" r="31.6"/></clipPath><g clip-path="url(#c4a)"><rect x="369.59999999999997" y="332.5" width="63.2" height="63.2" fill="#fbfbfd"/><path d="M366,362 L369,346 L392,330 L418,333 L414,337 L372,352 Z" fill="#e4dfe4"/><path d="M369,350 L410,335 L412,337.4 L371,353 Z" fill="#c9c3c9"/><path d="M371.6,352.4 L414.3,336.6 L434,352 L434,366 L425,365.2 L407.6,360.4 L386,355.4 Z" fill="url(#i4aG)"/><path d="M368,356 L372.5,353 L381,392 L372,386 Z" fill="#9b959c"/><path d="M373.5,356.8 L386,355.6 L425,366 L416,397 L384,393 L377,378 Z" fill="#f6f5fa"/><path d="M428,360 L434.5,362 L419,397 L411.5,394 Z" fill="#c3c1ca"/><path d="M430.5,360.6 L433,361.6 L417.4,396.6 L415,395.4 Z" fill="#eeeef3"/><circle cx="426.8" cy="375.4" r="2.4" fill="#e9e9ee" stroke="#a9a9b1" stroke-width="0.6"/><path d="M374,356.6 L387.4,355.2 L400,359.4 L398.6,362.6 L386,358.8 L377,359.2 Z" fill="#101012"/><path d="M379,360 L383.6,365.6 L390,367.8 L404,369.4 L404.8,366.4 L391.2,364.6 L385.4,361.4 L382,358.6 Z" fill="#0c0c0e"/><path d="M401.4,360.4 L407,358.6 L424,369.4 L418.6,381.6 L415,390.4 L411,392.6 L411.8,384.6 L403.4,378.6 L399,370 Z" fill="#0a0a0c"/><path d="M407.4,364.8 L409.2,365.6 L404.6,376.2 L402.8,375.4 Z" fill="#e8e8ee"/><path d="M406.4,349.6 Q398.6,345.4 395.8,350.6 Q393.8,356.4 401.6,358.8" fill="none" stroke="#2cc4e2" stroke-width="2.9" stroke-linecap="round"/><path d="M399.8,354.2 L406.2,360 L398.2,362 Z" fill="#2cc4e2"/><path d="M392.6,333.2 l1.6,3.6 l1.5,-2.6 l1.4,2.4 l1.7,-3.8" stroke="#4e4e55" stroke-width="0.8" fill="none"/></g><circle cx="401.2" cy="364.1" r="31.6" fill="none" stroke="#9a5a4a" stroke-width="1.25" stroke-linecap="round" stroke-dasharray="0.01 3.600"/><clipPath id="c3a"><circle cx="81.5" cy="607" r="46.9"/></clipPath><g clip-path="url(#c3a)"><rect x="34.6" y="560.1" width="93.8" height="93.8" fill="#e9e9f1"/><rect x="38" y="566" width="7" height="70" fill="url(#ribs)"/><rect x="46" y="566" width="9" height="70" fill="url(#ribs)"/><rect x="56" y="566" width="8" height="70" fill="url(#ribs)"/><rect x="85" y="566" width="9" height="70" fill="url(#ribs)"/><rect x="95" y="566" width="8" height="70" fill="url(#ribs)"/><rect x="104" y="566" width="8" height="70" fill="url(#ribs)"/><rect x="113" y="566" width="9" height="70" fill="url(#ribs)"/><rect x="123" y="566" width="8" height="70" fill="url(#ribs)"/><path d="M30,560 L80,556 L50,586 L30,600 Z" fill="#f1f1f7"/><path d="M30,645 L130,599 L130,660 L30,660 Z" fill="url(#i3aB)"/><path d="M48,643 L100,619 L100,660 L60,660 Z" fill="#3c3c42"/><rect x="99.4" y="619" width="3.6" height="41" fill="#d6d6dc"/><path d="M75,636.4 L95,627.4 L95,629.4 L75,638.4 Z" fill="#161618"/><path d="M103,617.6 L130,605 L130,660 L103,660 Z" fill="#66666c"/><path d="M30,631.4 L130,585.4 L130,603 L30,649 Z" fill="url(#i3aT)"/><path d="M30,634 L130,588 L130,590.6 L30,636.6 Z" fill="#ececf1" opacity="0.8"/><path d="M39.4,588 L86.6,568.6 L98,564.2 L108.6,569.6 L108.4,573.4 L88.4,579.6 L42,598 L39.4,596 Z" fill="#101012"/><path d="M54.4,582.2 Q53,577.6 57.6,575.2 L80.6,566.6 Q85.4,565.4 86.4,569.4 Q87.2,573.6 82.6,575.6 L60.4,584.6 Q55.8,586 54.4,582.2 Z" fill="#2b2b30"/><circle cx="93.4" cy="568" r="4.4" fill="#1a1a1c"/><circle cx="93.4" cy="568" r="2.6" fill="#e9e9ed"/><circle cx="93.4" cy="568" r="1" fill="#9a9aa0"/><circle cx="46" cy="591" r="0.9" fill="#555"/><path d="M64.6,597 L85,588 L88.4,600.4 L95,615.4 L76.6,623.4 L70,610 Z" fill="#0d0d0f"/><path d="M66,596.4 L84.6,588.4 L85.4,591.6 L66.8,599.6 Z" fill="#2a2a2e"/><ellipse cx="76.6" cy="601.2" rx="3.6" ry="2.6" fill="#f2f2f5" transform="rotate(-20 76.6 601.2)"/><path d="M74.6,601.6 l1.4,-1.6 l1,1.2 l1.2,-1.6" stroke="#222" stroke-width="0.6" fill="none"/><g stroke="#30c2dc" stroke-width="2.5" fill="none" stroke-linecap="round" stroke-linejoin="round"><path d="M54,597 L57.6,617 L66.4,625.6"/><path d="M90.4,580.4 L93.6,600 L101,606.6"/><path d="M98.2,576.6 L101.4,596 L108.8,602.6"/><path d="M105.4,573 L108.6,592.6 L116,599"/></g></g><circle cx="81.5" cy="607" r="46.9" fill="none" stroke="#8c3a34" stroke-width="1.85" stroke-linecap="round" stroke-dasharray="0.01 4.027"/><clipPath id="c3b"><circle cx="248" cy="606.6" r="47.0"/></clipPath><g clip-path="url(#c3b)"><rect x="201.0" y="559.6" width="94.0" height="94.0" fill="#0b0b0d"/><path d="M205,626 Q230,612 250,618 Q262,634 252,656 L205,656 Z" fill="#19191c"/><path d="M236,596 Q252,588 268,596 L262,606 L240,606 Z" fill="#17171a"/><path d="M276,570 L300,570 L300,620 L290,620 Z" fill="#fafafc"/><path d="M200,594 L204,574 L236,556 L276,560 L272,575.6 L214,588.4 Z" fill="url(#sstr)"/><path d="M200,586 L205,570 L236,556 L244,557 L207,578 Z" fill="#f7f7fa"/><path d="M267.6,575.4 L276.4,572.6 L293,624 L285.4,628 Z" fill="#e9e9ee"/><path d="M267.6,575.4 L269.6,574.8 L287.2,627 L285.4,628 Z" fill="#a4a4ac"/><path d="M292.4,600 L296,600 L296,612 L293.6,616 Z" fill="#111"/><path d="M206.6,587.6 L210.6,582.6 L289.4,623.4 L286.4,630.4 Z" fill="#a9a9b0"/><path d="M208.6,585 L210.6,582.6 L289.4,623.4 L288.2,626.4 Z" fill="#e6e6eb"/><circle cx="243.6" cy="608" r="1.9" fill="#ececf0" stroke="#66666c" stroke-width="0.7"/><path d="M247.4,608.6 L253.6,611.4 L252.6,614.6 L246.6,612 Z" fill="#e2e2e8" stroke="#55555b" stroke-width="0.6"/><circle cx="286.6" cy="626.4" r="1.5" fill="#d9d9df" stroke="#66666c" stroke-width="0.5"/><path d="M263.1,585.8 L256.5,593.6 L254.2,591.6 L253.4,601.4 L263.0,599.1 L260.7,597.1 L267.3,589.4 Z" fill="#3cc6e6"/><path d="M238.5,635.3 L244.6,627.4 L247.1,629.3 L247.4,619.4 L237.9,622.2 L240.4,624.1 L234.3,631.9 Z" fill="#3cc6e6"/></g><circle cx="248" cy="606.6" r="47.0" fill="none" stroke="#c2654b" stroke-width="1.7" stroke-linecap="round" stroke-dasharray="0.01 4.035"/><clipPath id="c4b"><circle cx="431.3" cy="607.2" r="46.8"/></clipPath><g clip-path="url(#c4b)"><rect x="384.5" y="560.4000000000001" width="93.6" height="93.6" fill="#0a0a0c"/><path d="M384,580 L396,578 L400,640 L388,640 Z" fill="#161618"/><path d="M402.6,556 L418.4,556 L427,658 L414,658 Z" fill="url(#gt1)"/><path d="M418.4,556 L428.6,556 L434,658 L427,658 Z" fill="#2e2c2d"/><path d="M445.4,556 L457.6,556 L463,658 L450.6,658 Z" fill="url(#gt2)"/><path d="M459,560 L470,566 L474,640 L464,652 Z" fill="#1c1b1c"/><path d="M426.4,558 L431.6,557 L438.6,569.6 L444.4,559 L449.4,560.4 L441.4,574.6 L445.6,596 L447,623.4 L456.4,640.6 L457,656 L451,656 L450.6,643 L441,625.6 L439.4,598 L434.6,575 Z" fill="url(#brk2)"/><path d="M437.6,574 L440.4,574 L444,598 L444.6,624 L442.6,624 L441.6,598 Z" fill="#6f6f77" opacity="0.7"/><path d="M438.4,580 q1.6,-1.6 2.4,0.4 M440,586.4 q1.4,-1.2 2,0.6 M442.6,612 q1.8,-0.8 1.8,1.4 l0,6" stroke="#2a2a2e" stroke-width="0.8" fill="none"/><path d="M444.6,590 L448.4,600" stroke="#dcdce2" stroke-width="1"/><g><rect x="423.4" y="586" width="11" height="7.4" fill="#9b9ba3"/><rect x="423.4" y="587" width="11" height="1.6" fill="#f0f0f4"/><rect x="423.4" y="590.4" width="11" height="1.6" fill="#e4e4ea"/></g><g><rect x="427.6" y="620.6" width="11" height="8" fill="#9b9ba3"/><rect x="427.6" y="621.8" width="11" height="1.6" fill="#f0f0f4"/><rect x="427.6" y="625.4" width="11" height="1.6" fill="#e4e4ea"/></g><path d="M422.2,584.6 L422.2,577.6 L429.2,577.6" fill="none" stroke="#2cc4e2" stroke-width="2.4"/><path d="M428.6,573.4 L434.4,577.6 L428.6,581.8 Z" fill="#2cc4e2"/><path d="M428.2,619.2 L428.2,612.2 L435.2,612.2" fill="none" stroke="#2cc4e2" stroke-width="2.4"/><path d="M434.6,608 L440.4,612.2 L434.6,616.4 Z" fill="#2cc4e2"/><path d="M405.4,588 l-1.6,3 M410.6,624 l-1.4,3" stroke="#cfcfd4" stroke-width="1"/></g><circle cx="431.3" cy="607.2" r="45.8" fill="none" stroke="#e2947a" stroke-width="2.1"/><circle cx="431.3" cy="607.2" r="45.8" fill="none" stroke="#0a0a0c" stroke-width="2.5" stroke-dasharray="1.5 2.189"/><clipPath id="c4c"><circle cx="597.6" cy="607" r="46.9"/></clipPath><g clip-path="url(#c4c)"><rect x="550.7" y="560.1" width="93.8" height="93.8" fill="#0a0a0c"/><path d="M548,580 L558,578 L559.6,640 L548,640 Z" fill="#d9d9de"/><path d="M559,572 L566,566 L568,650 L561,644 Z" fill="#2a292b"/><path d="M571.6,556 L586,556 L586.6,658 L572.4,658 Z" fill="url(#gt2)"/><circle cx="572" cy="589" r="1" fill="#cfcfd4"/><circle cx="572.6" cy="621.6" r="1" fill="#cfcfd4"/><path d="M599.4,556 L614.6,556 L615.6,658 L600,658 Z" fill="url(#gt2)" opacity="0.85"/><path d="M616,560 Q630,570 634,600 Q634,630 620,652 L616,652 Z" fill="#131315"/><path d="M596.6,556 L601.6,556 L600.4,570.6 L596.6,577 L597.6,618 L604.6,636.6 L605.4,658 L601,658 L600.6,638 L593.4,621.6 L592.6,576 L596,569.6 Z" fill="url(#brk)"/><path d="M587,581.4 L598.6,580.6 L598.6,584.6 L587,585.2 Z" fill="#d9d9df"/><path d="M587,617.6 L598.6,617 L598.6,621 L587,621.6 Z" fill="#d9d9df"/><path d="M598.6,586 L598.6,616" stroke="#55555b" stroke-width="1"/><path d="M607.4,583.6 L611.6,583.6 L611.6,588.0 L613.6,588.0 L609.5,593.0 L605.4,588.0 L607.4,588.0 Z" fill="#38bfe0"/><path d="M607.4,600.8 L611.6,600.8 L611.6,605.1999999999999 L613.6,605.1999999999999 L609.5,610.1999999999999 L605.4,605.1999999999999 L607.4,605.1999999999999 Z" fill="#38bfe0"/><path d="M607.4,618.2 L611.6,618.2 L611.6,622.6 L613.6,622.6 L609.5,627.6 L605.4,622.6 L607.4,622.6 Z" fill="#38bfe0"/></g><circle cx="597.6" cy="607" r="45.9" fill="none" stroke="#e2947a" stroke-width="2.1"/><circle cx="597.6" cy="607" r="45.9" fill="none" stroke="#0a0a0c" stroke-width="2.5" stroke-dasharray="1.5 2.197"/><g><path d="M143.8,601.9 L150.8,601.9 L158.20000000000002,610.3 L150.8,618.6999999999999 L143.8,618.6999999999999 L151.20000000000002,610.3 Z" fill="url(#chev)"/><path d="M157.7,601.9 L164.7,601.9 L172.1,610.3 L164.7,618.6999999999999 L157.7,618.6999999999999 L165.1,610.3 Z" fill="url(#chev)"/><path d="M171.6,601.9 L178.6,601.9 L186.0,610.3 L178.6,618.6999999999999 L171.6,618.6999999999999 L179.0,610.3 Z" fill="url(#chev)"/></g><g><path d="M492.7,601.9 L499.7,601.9 L507.09999999999997,610.3 L499.7,618.6999999999999 L492.7,618.6999999999999 L500.09999999999997,610.3 Z" fill="url(#chev)"/><path d="M506.6,601.9 L513.6,601.9 L521.0,610.3 L513.6,618.6999999999999 L506.6,618.6999999999999 L514.0,610.3 Z" fill="url(#chev)"/><path d="M520.5,601.9 L527.5,601.9 L534.9,610.3 L527.5,618.6999999999999 L520.5,618.6999999999999 L527.9,610.3 Z" fill="url(#chev)"/></g></g>
<!-- BADGES -->
<g id="badges" font-family="Liberation Sans, sans-serif" font-weight="700" font-style="italic" font-size="14.5" fill="#fff" text-anchor="middle">
<g><circle cx="173.3" cy="12.6" r="11.3" fill="#f9b877" opacity="0.42"/><circle cx="173.3" cy="12.6" r="9.5" fill="#f26a10"/><text x="173.2" y="17.8">1</text></g>
<g><circle cx="498.8" cy="12.6" r="11.3" fill="#f9b877" opacity="0.42"/><circle cx="498.8" cy="12.6" r="9.5" fill="#f26a10"/><text x="498.6" y="17.8">2</text></g>
<g><circle cx="173.3" cy="309.4" r="11.3" fill="#f9b877" opacity="0.42"/><circle cx="173.3" cy="309.4" r="9.5" fill="#f26a10"/><text x="173.2" y="314.6">3</text></g>
<g><circle cx="498.8" cy="309.4" r="11.3" fill="#f9b877" opacity="0.42"/><circle cx="498.8" cy="309.4" r="9.5" fill="#f26a10"/><text x="498.6" y="314.6">4</text></g>
</g>
</svg>
<div class="t" id="t1" style="left:14px;width:300px;top:231.5px;">Take the folding table<br>out of the storage bag</div>
<div class="t" id="t2" style="left:364px;width:300px;top:231.5px;">Open the frame and lock the<br>supports in place</div>
<div class="t" id="t3" style="left:14.7px;width:300px;top:523.2px;">Install the two metal shelves</div>
<div class="t" id="t4" style="left:364px;width:300px;top:521.6px;">Install the windscreen and 3 bags</div>
</body></html>
